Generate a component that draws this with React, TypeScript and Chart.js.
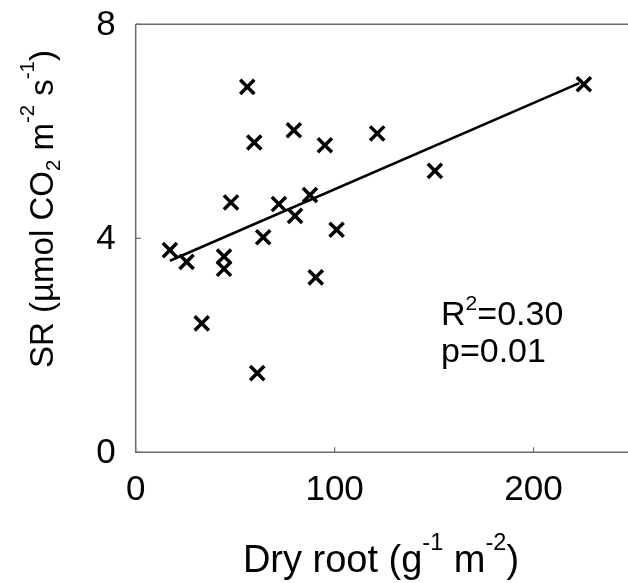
import React, { useEffect, useRef } from "react";
import { Chart, registerables } from "chart.js";

Chart.register(...registerables);

// Dry root (x) and SR (y) observations
const dryRoot = [225.3, 56.1, 59.6, 79.5, 95.1, 121.4, 150.4, 47.9, 72.0, 87.6, 80.1, 101.0, 64.1, 17.2, 25.6, 44.4, 44.4, 90.5, 33.2, 61.1];
const srValues = [6.88, 6.83, 5.79, 6.02, 5.74, 5.96, 5.26, 4.67, 4.64, 4.81, 4.42, 4.16, 4.02, 3.78, 3.56, 3.66, 3.43, 3.27, 2.41, 1.48];

// Regression line end points
const trendX = [17.2, 223.0];
const trendY = [3.58, 6.9];

const xTicks = [0, 100, 200];
const yTicks = [0, 4, 8];
const xMin = 0;
const xMax = 247.5;
const yMin = 0;
const yMax = 8;

type Seg = { t: string; m?: "sup" | "sub"; rise?: number };

const xTitle: Seg[] = [{ t: "Dry root (g" }, { t: "-1", m: "sup" }, { t: " m" }, { t: "-2", m: "sup" }, { t: ")" }];
const yTitle: Seg[] = [
  { t: "SR (µmol CO" }, { t: "2", m: "sub" }, { t: " m" }, { t: "-2", m: "sup" }, { t: " s" }, { t: "-1", m: "sup" }, { t: ")" },
];
const r2Text: Seg[] = [{ t: "R" }, { t: "2", m: "sup", rise: 0.43 }, { t: "=0.30" }];
const pText: Seg[] = [{ t: "p=0.01" }];

const FONT = "'Liberation Sans', Arial, sans-serif";

function drawRich(ctx: CanvasRenderingContext2D, segs: Seg[], x: number, y: number, size: number, align: "center" | "left") {
  const small = size * 0.62;
  const widths = segs.map((s) => {
    ctx.font = `${s.m ? small : size}px ${FONT}`;
    return ctx.measureText(s.t).width;
  });
  const total = widths.reduce((a, b) => a + b, 0);
  let cx = align === "center" ? x - total / 2 : x;
  ctx.textAlign = "left";
  ctx.textBaseline = "alphabetic";
  segs.forEach((s, i) => {
    ctx.font = `${s.m ? small : size}px ${FONT}`;
    let dy = 0;
    if (s.m === "sup") dy = -size * (s.rise ?? 0.58);
    if (s.m === "sub") dy = size * 0.2;
    ctx.fillText(s.t, cx, y + dy);
    cx += widths[i];
  });
}

const decorPlugin = {
  id: "decor",
  afterDraw(chart: any) {
    const { ctx, chartArea } = chart;
    const xs = chart.scales.x;
    const ys = chart.scales.y;
    const { left, right, top, bottom } = chartArea;
    ctx.save();
    // frame
    ctx.strokeStyle = "#6b6b6b";
    ctx.lineWidth = 1.5;
    ctx.beginPath();
    ctx.moveTo(left, top);
    ctx.lineTo(right, top);
    ctx.moveTo(left, top);
    ctx.lineTo(left, bottom);
    ctx.lineTo(right, bottom);
    ctx.stroke();
    // inward ticks
    ctx.lineWidth = 1.2;
    ctx.beginPath();
    xTicks.forEach((v) => {
      const px = xs.getPixelForValue(v);
      ctx.moveTo(px, bottom);
      ctx.lineTo(px, bottom - 5);
    });
    yTicks.forEach((v) => {
      const py = ys.getPixelForValue(v);
      ctx.moveTo(left, py);
      ctx.lineTo(left + 5, py);
    });
    ctx.stroke();
    // tick labels
    ctx.fillStyle = "#000";
    ctx.font = `35px ${FONT}`;
    ctx.textBaseline = "middle";
    ctx.textAlign = "center";
    xTicks.forEach((v) => {
      ctx.fillText(String(v), xs.getPixelForValue(v), bottom + 38);
    });
    ctx.textAlign = "right";
    yTicks.forEach((v) => {
      ctx.fillText(String(v), left - 20, ys.getPixelForValue(v) + 1);
    });
    // axis titles
    drawRich(ctx, xTitle, 381, 572, 38, "center");
    ctx.save();
    ctx.translate(53, 209);
    ctx.rotate(-Math.PI / 2);
    drawRich(ctx, yTitle, 0, 0, 33, "center");
    ctx.restore();
    // annotation
    drawRich(ctx, r2Text, 441, 325, 34, "left");
    drawRich(ctx, pText, 441, 362, 34, "left");
    ctx.restore();
  },
};

export default function App() {
  const ref = useRef<HTMLCanvasElement | null>(null);
  useEffect(() => {
    if (!ref.current) return;
    const chart = new Chart(ref.current, {
      type: "scatter",
      data: {
        datasets: [
          {
            type: "line",
            data: trendX.map((x, i) => ({ x, y: trendY[i] })),
            borderColor: "#000",
            borderWidth: 2.6,
            pointRadius: 0,
            fill: false,
          } as any,
          {
            type: "scatter",
            data: dryRoot.map((x, i) => ({ x, y: srValues[i] })),
            pointStyle: "crossRot",
            pointRadius: 10,
            borderColor: "#000",
            backgroundColor: "#000",
            borderWidth: 3.5,
          },
        ],
      },
      options: {
        animation: false,
        responsive: false,
        devicePixelRatio: 1,
        layout: { autoPadding: false, padding: { top: 24.3, right: 0, left: 0, bottom: 0 } },
        plugins: { legend: { display: false }, tooltip: { enabled: false } },
        scales: {
          x: {
            type: "linear",
            min: xMin,
            max: xMax,
            grid: { display: false },
            border: { display: false },
            ticks: { display: false },
            afterFit: (s: any) => {
              s.height = 130.7;
              s.paddingLeft = 0;
              s.paddingRight = 0;
            },
          },
          y: {
            type: "linear",
            min: yMin,
            max: yMax,
            grid: { display: false },
            border: { display: false },
            ticks: { display: false },
            afterFit: (s: any) => {
              s.width = 135.7;
              s.paddingTop = 0;
              s.paddingBottom = 0;
            },
          },
        },
      },
      plugins: [decorPlugin],
    });
    return () => chart.destroy();
  }, []);
  return (
    <div style={{ position: "absolute", left: 0, top: 0, width: 628, height: 583, background: "#fff" }}>
      <canvas ref={ref} width={628} height={583} style={{ width: 628, height: 583, display: "block" }} />
    </div>
  );
}
